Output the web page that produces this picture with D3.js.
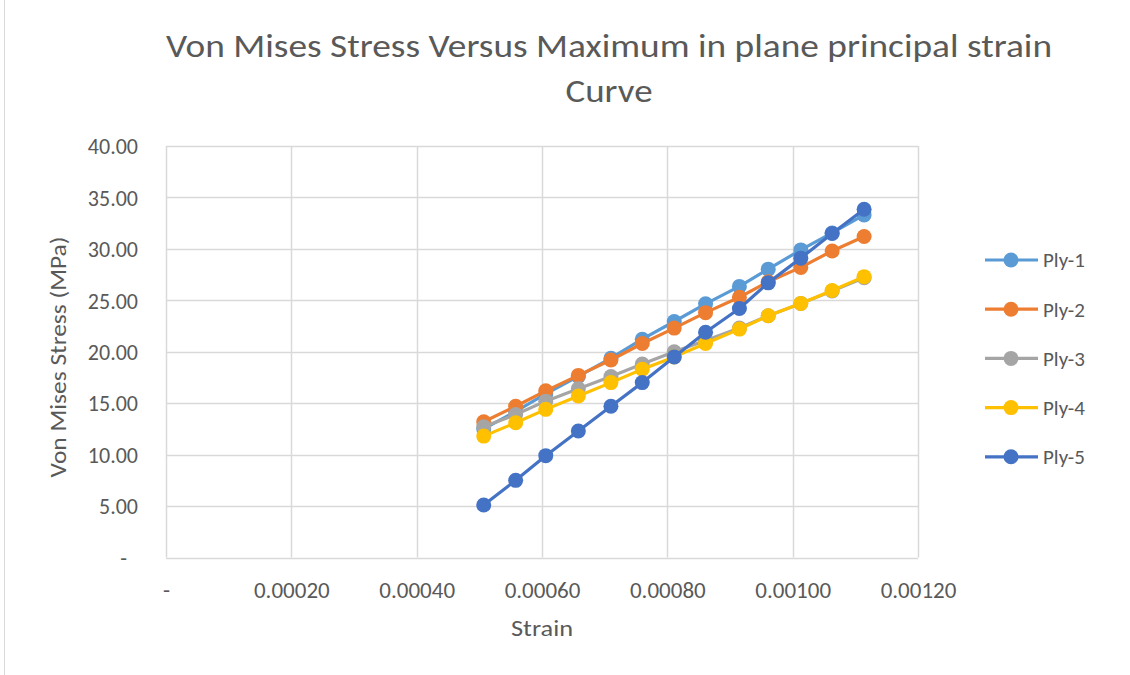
<!DOCTYPE html>
<html>
<head>
<meta charset="utf-8">
<script src="https://cdn.jsdelivr.net/npm/d3@7"></script>
<style>
	body { margin: 0; background: #fff; }
	svg text { font-family: Carlito, Lato, "Open Sans", sans-serif; fill: #595959; }
</style>
</head>
<body>
<svg id="chart" width="1130" height="675"></svg>
<script>
// strain values (x)
var strain = [0.000507, 0.000558, 0.000606, 0.000658, 0.000710, 0.000760, 0.000811,
	0.000861, 0.000915, 0.000961, 0.001013, 0.001063, 0.001114];

// von mises stress per ply (MPa)
var ply1 = [12.5, 14.2, 15.9, 17.6, 19.37, 21.22, 22.94, 24.66, 26.35, 28.03, 29.9, 31.55, 33.3];
var ply2 = [13.2, 14.7, 16.2, 17.7, 19.2, 20.8, 22.3, 23.8, 25.3, 26.8, 28.2, 29.8, 31.2];
var ply3 = [12.7, 13.9, 15.2, 16.4, 17.6, 18.8, 20.0, 21.1, 22.3, 23.5, 24.7, 25.9, 27.2];
var ply4 = [11.8, 13.1, 14.4, 15.7, 17.0, 18.3, 19.5, 20.8, 22.2, 23.5, 24.7, 25.95, 27.3];
var ply5 = [5.1, 7.5, 9.9, 12.3, 14.7, 17.0, 19.5, 21.9, 24.2, 26.7, 29.1, 31.5, 33.85];

var seriesNames = ['Ply-1', 'Ply-2', 'Ply-3', 'Ply-4', 'Ply-5'];
var seriesColors = ['#5B9BD5', '#ED7D31', '#A5A5A5', '#FFC000', '#4472C4'];
var xTicks = [0, 0.0002, 0.0004, 0.0006, 0.0008, 0.001, 0.0012];
var yTicks = [0, 5, 10, 15, 20, 25, 30, 35, 40];

var allSeries = [ply1, ply2, ply3, ply4, ply5];

var svg = d3.select('#chart');
// plot area box
var pLeft = 166, pRight = 918, pTop = 146, pBottom = 557.5;

var x = d3.scaleLinear().domain([0, 0.0012]).range([pLeft, pRight]);
var y = d3.scaleLinear().domain([0, 40]).range([pBottom, pTop]);

// chart border (only the left edge is in the picture)
svg.append('line')
	.attr('x1', 4.5).attr('x2', 4.5).attr('y1', 0).attr('y2', 675)
	.attr('stroke', '#d9d9d9').attr('stroke-width', 1);

// gridlines
svg.append('g').selectAll('line').data(yTicks).enter().append('line')
	.attr('x1', pLeft).attr('x2', pRight)
	.attr('y1', function(d){ return Math.round(y(d)) + 0.5; })
	.attr('y2', function(d){ return Math.round(y(d)) + 0.5; })
	.attr('stroke', '#d9d9d9').attr('stroke-width', 1.5);
svg.append('g').selectAll('line').data(xTicks).enter().append('line')
	.attr('y1', pTop).attr('y2', pBottom)
	.attr('x1', function(d){ return Math.round(x(d)) + 0.5; })
	.attr('x2', function(d){ return Math.round(x(d)) + 0.5; })
	.attr('stroke', '#d9d9d9').attr('stroke-width', 1.5);

// tick labels
var fx = d3.format('.5f'), fy = d3.format('.2f');
var xAxis = d3.axisBottom(x).tickValues(xTicks).tickSize(0).tickPadding(0)
	.tickFormat(function(d){ return d === 0 ? '-' : fx(d); });
var gx = svg.append('g').attr('transform', 'translate(0,' + 590 + ')').call(xAxis);
gx.select('.domain').remove();
gx.selectAll('text').attr('font-size', 23).attr('dy', '0.35em')
	.attr('fill', '#595959').attr('font-family', null);

var yAxis = d3.axisLeft(y).tickValues(yTicks).tickSize(0).tickPadding(0)
	.tickFormat(function(d){ return d === 0 ? '-' : fy(d); });
var gy = svg.append('g').attr('transform', 'translate(' + 138 + ',0)').call(yAxis);
gy.select('.domain').remove();
gy.selectAll('text').attr('font-size', 22).attr('dy', '0.35em')
	.attr('fill', '#595959').attr('font-family', null)
	.attr('dx', function(d){ return d === 0 ? -11 : 0; });

// lines + markers
var line = d3.line()
	.x(function(d, i){ return x(strain[i]); })
	.y(function(d){ return y(d); });

allSeries.forEach(function(vals, s){
	var g = svg.append('g');
	g.append('path').datum(vals)
		.attr('d', line)
		.attr('fill', 'none')
		.attr('stroke', seriesColors[s])
		.attr('stroke-width', 3.2)
		.attr('stroke-linejoin', 'round');
	g.selectAll('circle').data(vals).enter().append('circle')
		.attr('cx', function(d, i){ return x(strain[i]); })
		.attr('cy', function(d){ return y(d); })
		.attr('r', 7.5)
		.attr('fill', seriesColors[s]);
});

// legend
var legend = svg.append('g');
seriesNames.forEach(function(name, i){
	var ly = 260 + i * 49.2;
	legend.append('line')
		.attr('x1', 985).attr('x2', 1038).attr('y1', ly).attr('y2', ly)
		.attr('stroke', seriesColors[i]).attr('stroke-width', 3.2);
	legend.append('circle')
		.attr('cx', 1011).attr('cy', ly).attr('r', 7.5)
		.attr('fill', seriesColors[i]);
	legend.append('text')
		.attr('x', 1043).attr('y', ly).attr('dy', '0.35em')
		.attr('font-size', 21)
		.text(name);
});

// titles
svg.append('text')
	.attr('x', 609).attr('y', 46).attr('dy', '0.35em')
	.attr('text-anchor', 'middle').attr('font-size', 32)
	.attr('textLength', 886).attr('lengthAdjust', 'spacingAndGlyphs')
	.text('Von Mises Stress Versus Maximum in plane principal strain');
svg.append('text')
	.attr('x', 609).attr('y', 91).attr('dy', '0.35em')
	.attr('text-anchor', 'middle').attr('font-size', 32)
	.attr('textLength', 87).attr('lengthAdjust', 'spacingAndGlyphs')
	.text('Curve');

svg.append('text')
	.attr('x', 542).attr('y', 628).attr('dy', '0.35em')
	.attr('text-anchor', 'middle').attr('font-size', 23)
	.attr('textLength', 62).attr('lengthAdjust', 'spacingAndGlyphs')
	.text('Strain');

svg.append('text')
	.attr('transform', 'translate(58,' + 357 + ') rotate(-90)')
	.attr('dy', '0.35em')
	.attr('text-anchor', 'middle').attr('font-size', 23)
	.attr('textLength', 241).attr('lengthAdjust', 'spacingAndGlyphs')
	.text('Von Mises Stress (MPa)');
</script>
</body>
</html>
